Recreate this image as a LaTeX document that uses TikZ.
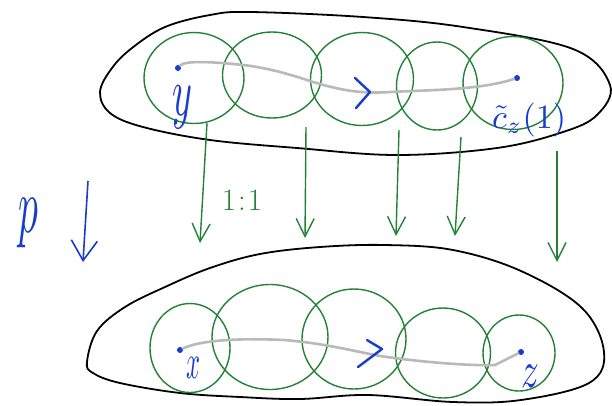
\documentclass[tikz,border=0pt]{standalone}
\usetikzlibrary{arrows.meta,shapes.geometric}
\definecolor{pen}{RGB}{25,60,205}
\definecolor{grn}{RGB}{35,130,55}
\definecolor{trail}{RGB}{185,185,185}
\begin{document}
\begin{tikzpicture}[x=1pt,y=-1pt,
  blob/.style={draw=black, line width=1.8pt},
  ring/.style={ellipse, draw=grn, line width=1.4pt, inner sep=0pt},
  trailline/.style={draw=trail, line width=2.6pt, line cap=round},
  dot/.style={circle, fill=pen, inner sep=0pt, minimum size=6pt},
  lbl/.style={text=pen, inner sep=0pt, anchor=base},
  proj/.style={draw=grn, line width=1.4pt, -{Straight Barb[length=18pt,width=18pt,line width=1.4pt]}},
  chevron/.style={draw=pen, line width=2.4pt, line cap=round, line join=round}]
\useasboundingbox (0,0) rectangle (612,405);
\fill[white] (0,0) rectangle (612,405);

% top blob
\draw[blob] plot[smooth cycle, tension=0.6] coordinates {
 (100,92) (112,68) (132,48) (165,27) (210,15) (250,12) (363,17) (463,27)
 (573,49) (610,85) (597,115) (563,132) (497,148) (397,155) (297,148)
 (210,140) (143,127) (110,113)};

% bottom blob
\draw[blob] plot[smooth cycle, tension=0.6] coordinates {
 (87,362) (97,331) (125,307) (165,287) (210,268) (260,254) (320,247)
 (385,245) (453,250) (521,271) (582,308) (604,352) (589,383) (521,400)
 (453,402) (368,395) (300,399) (240,397) (180,393) (120,383) (93,373)};

% top circles
\node[ring, minimum width=100pt, minimum height=91pt] (t1) at (194,78) {};
\node[ring, minimum width=99pt, minimum height=86pt] (t2) at (272,75) {};
\node[ring, minimum width=103pt, minimum height=93pt] (t3) at (362,79) {};
\node[ring, minimum width=81pt, minimum height=88pt] (t4) at (437,86) {};
\node[ring, minimum width=100pt, minimum height=93pt] (t5) at (513,83) {};

% bottom circles
\node[ring, minimum width=80pt, minimum height=89pt] (b1) at (190,348) {};
\node[ring, minimum width=116pt, minimum height=105pt] (b2) at (270,337) {};
\node[ring, minimum width=104pt, minimum height=100pt] (b3) at (354,339) {};
\node[ring, minimum width=95pt, minimum height=90pt] (b4) at (443,353) {};
\node[ring, minimum width=72pt, minimum height=76pt] (b5) at (519,353) {};

% top trail
\node[dot] (yd) at (178,68) {};
\node[dot] (cd) at (517,78) {};
\draw[trailline] (yd) .. controls (185,60) and (215,62) .. (243,65)
  .. controls (270,68) and (295,76) .. (313,82)
  .. controls (340,90) and (360,94) .. (390,92)
  .. controls (430,90) and (480,90) .. (cd);
\draw[chevron] (355,78) -- (370,92) -- (356,108);
\node[lbl] (ylab) at (182,115) {\scalebox{3.8}[6.9]{$y$}};
\node[lbl, anchor=base west] (clab) at (492,128) {\scalebox{3.4}{$\tilde{c}_z(1)$}};

% bottom trail
\node[dot] (xd) at (180,350) {};
\node[dot] (zd) at (521,352) {};
\draw[trailline] (xd) .. controls (200,340) and (240,338) .. (284,340)
  .. controls (320,343) and (340,348) .. (380,356)
  .. controls (420,362) and (470,366) .. (495,365) -- (zd);
\draw[chevron] (367,340) -- (382,349) -- (358,367);
\node[lbl] (xlab) at (193,378) {\scalebox{2.45}[4.9]{$x$}};
\node[lbl] (zlab) at (530,387) {\scalebox{3.5}[5.2]{$z$}};

% projection arrows
\coordinate (s1) at (207,123); \coordinate (e1) at (200,243);
\coordinate (s2) at (306,127); \coordinate (e2) at (305,238);
\coordinate (s3) at (399,130); \coordinate (e3) at (396,236);
\coordinate (s4) at (461,137); \coordinate (e4) at (455,236);
\coordinate (s5) at (557,151); \coordinate (e5) at (557,262);
\draw[proj] (s1) -- (e1);
\draw[proj] (s2) -- (e2);
\draw[proj] (s3) -- (e3);
\draw[proj] (s4) -- (e4);
\draw[proj] (s5) -- (e5);
\node[text=grn, inner sep=0pt, anchor=base, font=\fontsize{31}{31}\selectfont] (ratio) at (242,210) {1\kern2pt:\kern2pt1};

% p arrow
\coordinate (ps) at (88,181); \coordinate (pe) at (83,262);
\draw[draw=pen, line width=1.6pt, -{Straight Barb[length=20pt,width=26pt,line width=1.6pt]}] (ps) -- (pe);
\node[lbl] (plab) at (28,232) {\scalebox{3.95}[7.9]{$p$}};
\end{tikzpicture}
\end{document}
